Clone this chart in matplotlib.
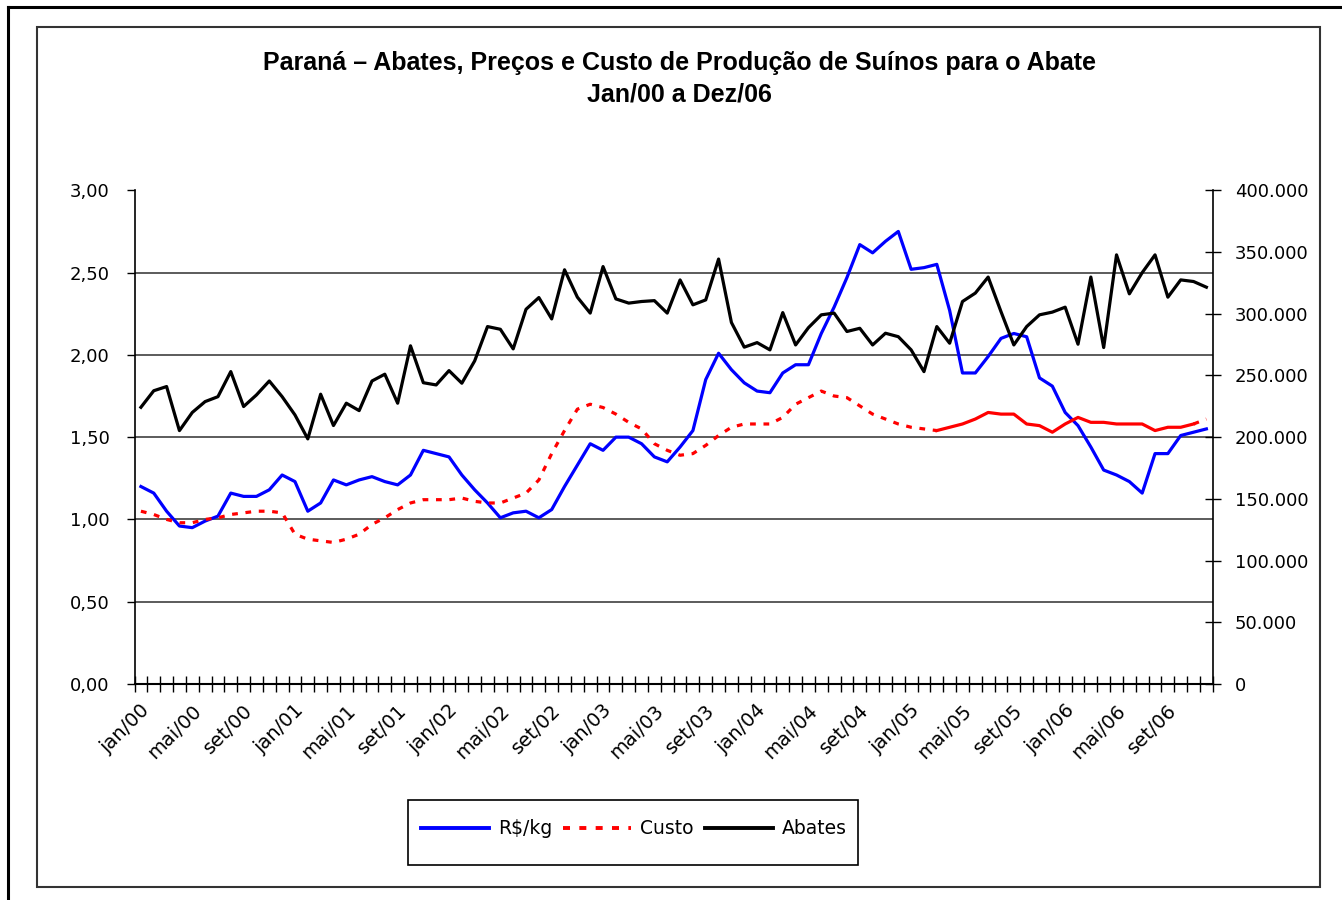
import numpy as np
import matplotlib
matplotlib.use('Agg')
import matplotlib.pyplot as plt
from matplotlib.lines import Line2D
from matplotlib.patches import Rectangle
from matplotlib.ticker import FuncFormatter, FixedLocator
import matplotlib.transforms as mtransforms

meses = ['jan', 'fev', 'mar', 'abr', 'mai', 'jun', 'jul', 'ago', 'set', 'out', 'nov', 'dez']
anos = ['00', '01', '02', '03', '04', '05', '06']
rotulos = [m + '/' + a for a in anos for m in meses]

# R$/kg
preco = [1.20, 1.16, 1.05, 0.96, 0.95, 0.99, 1.02, 1.16, 1.14, 1.14,
         1.18, 1.27, 1.23, 1.05, 1.10, 1.24, 1.21, 1.24, 1.26, 1.23,
         1.21, 1.27, 1.42, 1.40, 1.38, 1.27, 1.18, 1.10, 1.01, 1.04,
         1.05, 1.01, 1.06, 1.20, 1.33, 1.46, 1.42, 1.50, 1.50, 1.46,
         1.38, 1.35, 1.44, 1.54, 1.85, 2.01, 1.91, 1.83, 1.78, 1.77,
         1.89, 1.94, 1.94, 2.13, 2.29, 2.47, 2.67, 2.62, 2.69, 2.75,
         2.52, 2.53, 2.55, 2.27, 1.89, 1.89, 1.99, 2.10, 2.13, 2.11,
         1.86, 1.81, 1.65, 1.57, 1.44, 1.30, 1.27, 1.23, 1.16, 1.40,
         1.40, 1.51, 1.53, 1.55]

# custo de producao
custo = [1.05, 1.03, 1.00, 0.98, 0.98, 1.00, 1.01, 1.03, 1.04, 1.05,
         1.05, 1.04, 0.91, 0.88, 0.87, 0.86, 0.88, 0.91, 0.97, 1.01,
         1.06, 1.10, 1.12, 1.12, 1.12, 1.13, 1.11, 1.10, 1.10, 1.13,
         1.16, 1.24, 1.40, 1.54, 1.67, 1.70, 1.68, 1.64, 1.59, 1.55,
         1.46, 1.42, 1.39, 1.40, 1.45, 1.51, 1.56, 1.58, 1.58, 1.58,
         1.62, 1.70, 1.74, 1.78, 1.75, 1.74, 1.69, 1.64, 1.61, 1.58,
         1.56, 1.55, 1.54, 1.56, 1.58, 1.61, 1.65, 1.64, 1.64, 1.58,
         1.57, 1.53, 1.58, 1.62, 1.59, 1.59, 1.58, 1.58, 1.58, 1.54,
         1.56, 1.56, 1.58, 1.61]

# abates (cabecas)
abates = [224200, 237600, 241000, 205300, 220000, 228800, 232800, 253100, 224800, 234200,
          245500, 232800, 218000, 198600, 234800, 209400, 227500, 221500, 245500, 251000,
          227500, 274000, 244100, 242300, 253900, 243700, 261800, 289600, 287400, 271500,
          303600, 313100, 295800, 335600, 313400, 300500, 338200, 312000, 308600, 309900,
          310600, 300500, 327400, 307200, 311200, 344300, 292900, 272900, 276600, 270700,
          300900, 274700, 288700, 299100, 300500, 285600, 288200, 274700, 284200, 281400,
          270700, 253100, 289600, 276100, 309900, 316700, 329700, 301700, 274700, 289600,
          299100, 301300, 305300, 275300, 329700, 272600, 347700, 316100, 333300, 347700,
          313400, 327400, 326100, 321500]

x = np.arange(len(rotulos))
W, H = 1342, 900

fig = plt.figure(figsize=(13.42, 9.0), dpi=100)
ax = fig.add_axes([134.5 / W, 1 - 684 / H, 1078.3 / W, 493.7 / H])
ax2 = ax.twinx()

for v in [0.5, 1.0, 1.5, 2.0, 2.5]:
    ax.axhline(v, color='#404040', lw=1.2, zorder=1)

ax.plot(x, preco, color='#0000ff', lw=2.3, zorder=3)
# custo: pontilhado, trecho continuo de mar/05 a nov/06
ax.plot(x[:63], custo[:63], color='#ff0000', lw=2.3, ls=(0, (1.8, 2.4)), zorder=3)
ax.plot(x[62:83], custo[62:83], color='#ff0000', lw=2.3, zorder=3)
ax.plot(x[82:], custo[82:], color='#ff0000', lw=2.3, ls=(0, (1.8, 2.4)), zorder=3)
ax2.plot(x, abates, color='black', lw=2.3, zorder=3)

ax.set_xlim(-0.5, len(x) - 0.5)
ax.set_ylim(0, 3)
ax2.set_ylim(0, 400000)

for s in ['top', 'right']:
    ax.spines[s].set_visible(False)
for s in ['top', 'left', 'bottom']:
    ax2.spines[s].set_visible(False)
ax.spines['left'].set_linewidth(1.2)
ax.spines['bottom'].set_linewidth(1.5)
ax2.spines['right'].set_linewidth(1.2)

ax.set_yticks(np.arange(0, 3.01, 0.5))
ax.yaxis.set_major_formatter(FuncFormatter(lambda v, p: ('%.2f' % v).replace('.', ',')))
ax.tick_params(axis='y', direction='out', length=6, width=1, pad=12, labelsize=13)

ax2.set_yticks(np.arange(0, 400001, 50000))
ax2.yaxis.set_major_formatter(FuncFormatter(lambda v, p: '{:,.0f}'.format(v).replace(',', '.')))
ax2.tick_params(axis='y', direction='inout', length=12, width=1, pad=10, labelsize=13)

ax.xaxis.set_major_locator(FixedLocator(np.arange(-0.5, len(x), 1.0)))
ax.xaxis.set_minor_locator(FixedLocator(x[::4]))
ax.set_xticklabels([])
ax.set_xticklabels([rotulos[i] for i in x[::4]], minor=True, rotation=45,
                   ha='right', va='center', rotation_mode='anchor', fontsize=14)
ax.tick_params(axis='x', which='major', direction='inout', length=12, width=1)
ax.tick_params(axis='x', which='minor', length=0, pad=17)
desloc = mtransforms.ScaledTranslation(6 / 100, 0, fig.dpi_scale_trans)
for t in ax.xaxis.get_minorticklabels():
    t.set_transform(t.get_transform() + desloc)

fig.text(0.506, 1 - 63 / H, 'Paraná – Abates, Preços e Custo de Produção de Suínos para o Abate',
         ha='center', va='center', fontsize=18, fontweight='bold', family='Liberation Sans')
fig.text(0.506, 1 - 94 / H, 'Jan/00 a Dez/06',
         ha='center', va='center', fontsize=18, fontweight='bold', family='Liberation Sans')

# caixa da legenda
fig.patches.append(Rectangle((408 / W, 1 - 865 / H), 450 / W, 65 / H, transform=fig.transFigure,
                             fill=False, edgecolor='black', lw=1.2))
handles = [Line2D([], [], color='#0000ff', lw=2.8),
           Line2D([], [], color='#ff0000', lw=2.8, ls=(0, (1.8, 2.4))),
           Line2D([], [], color='black', lw=2.8)]
fig.legend(handles, ['R$/kg', 'Custo', 'Abates'], loc='center', bbox_to_anchor=(634 / W, 1 - 829 / H),
           ncol=3, frameon=False, fontsize=13.5, handlelength=3.6, handletextpad=0.5, columnspacing=0.6)

# molduras
fig.patches.append(Rectangle((37 / W, 1 - 887 / H), 1283 / W, 860 / H, transform=fig.transFigure,
                             fill=False, edgecolor='#333333', lw=1.5))
fig.lines.append(Line2D([8 / W, 8 / W], [0, 1 - 7 / H], transform=fig.transFigure, color='black', lw=2.2))
fig.lines.append(Line2D([8 / W, 1], [1 - 7 / H, 1 - 7 / H], transform=fig.transFigure, color='black', lw=2.2))

fig.savefig('out.png', dpi=100)
